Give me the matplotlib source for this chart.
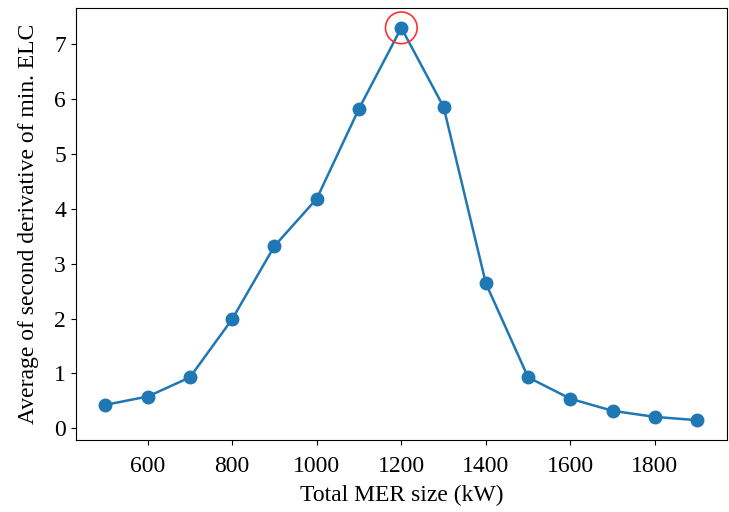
import matplotlib
matplotlib.use("Agg")
import matplotlib.pyplot as plt

plt.rcParams['font.family'] = ['Liberation Serif', 'DejaVu Serif']

mer_size = [500, 600, 700, 800, 900, 1000, 1100, 1200, 1300, 1400, 1500, 1600, 1700, 1800, 1900]
avg_second_deriv = [0.43, 0.58, 0.93, 1.99, 3.32, 4.18, 5.82, 7.29, 5.85, 2.64, 0.93, 0.54, 0.32, 0.21, 0.15]
peak_x = 1200
peak_y = 7.29

fig = plt.figure(figsize=(7.29, 5.12), dpi=100)
ax = fig.add_axes([0.104, 0.141, 0.893, 0.843])
ax.plot(mer_size, avg_second_deriv, marker='o', color='#1f77b4', markersize=9, linewidth=1.8)
ax.scatter([peak_x], [peak_y], s=520, facecolors='none', edgecolors='#ff3030', linewidths=1.2, zorder=3)
ax.set_xlabel('Total MER size (kW)', fontsize=17, labelpad=6)
ax.set_ylabel('Average of second derivative of min. ELC', fontsize=17, labelpad=11)
ax.tick_params(labelsize=17)
ax.tick_params(axis='x', pad=8)
fig.savefig('out.png', dpi=100)
